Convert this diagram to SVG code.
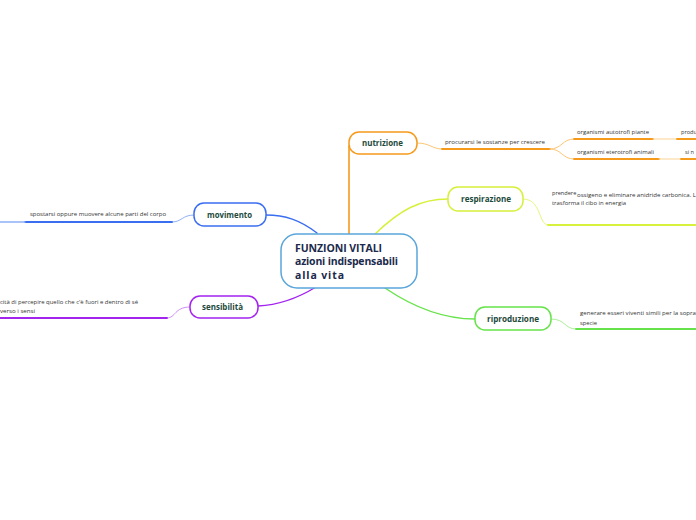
<svg xmlns="http://www.w3.org/2000/svg" width="696" height="520" viewBox="0 0 696 520">
<style>
.node{fill:#fff;stroke-width:1.5}
.t{font-family:"Open Sans","DejaVu Sans",sans-serif;font-weight:bold;font-size:9px;fill:#1d4a3c}
.c{font-family:"Open Sans","DejaVu Sans",sans-serif;font-weight:bold;font-size:10.5px;fill:#1b2a4c}
.s{font-family:"Open Sans","DejaVu Sans",sans-serif;font-size:5.6px;fill:#333}
.ln{fill:none;stroke-linecap:round}
</style>
<rect width="696" height="520" fill="#fff"/>
<g id="connectors">
  <path class="ln" d="M349 234 L349 146" stroke="#f59a1b" stroke-width="1.6"/>
  <path class="ln" d="M375 234 C400 210 420 199 448 199" stroke="#d7f03b" stroke-width="1.4"/>
  <path class="ln" d="M385 288 C410 305 440 319 475 319" stroke="#66e34a" stroke-width="1.4"/>
  <path class="ln" d="M317 233 C300 220 285 215 266 215" stroke="#3a6ef0" stroke-width="1.4"/>
  <path class="ln" d="M316 287 C298 298 280 305 258 306" stroke="#a323ef" stroke-width="1.4"/>
  <path class="ln" d="M417 143 C430 143 432 149 442 149" stroke="#fbc676" stroke-width="1"/>
  <path class="ln" d="M442 149 L550 149" stroke="#f59a1b" stroke-width="1.8"/>
  <path class="ln" d="M550 149 C562 149 562 139 574 139" stroke="#fbc676" stroke-width="1"/>
  <path class="ln" d="M550 149 C562 149 562 159 574 159" stroke="#fbc676" stroke-width="1"/>
  <path class="ln" d="M574 139 L653 139" stroke="#f59a1b" stroke-width="1.8"/>
  <path class="ln" d="M653 139 L677 139" stroke="#fbd38f" stroke-width="1"/>
  <path class="ln" d="M677 139 L696 139" stroke="#f59a1b" stroke-width="1.8"/>
  <path class="ln" d="M574 159 L659 159" stroke="#f59a1b" stroke-width="1.8"/>
  <path class="ln" d="M659 159 L681 159" stroke="#fbd38f" stroke-width="1"/>
  <path class="ln" d="M681 159 L696 159" stroke="#f59a1b" stroke-width="1.8"/>
  <path class="ln" d="M523 199 C542 199 538 225 548 225" stroke="#e6f77a" stroke-width="1"/>
  <path class="ln" d="M548 225 L696 225" stroke="#d7f03b" stroke-width="1.8"/>
  <path class="ln" d="M551 319 C566 319 564 329 576 329" stroke="#a6ef93" stroke-width="1"/>
  <path class="ln" d="M576 329 L696 329" stroke="#66e34a" stroke-width="1.8"/>
  <path class="ln" d="M194 215 C182 215 182 222 172 222" stroke="#8fb0f6" stroke-width="1"/>
  <path class="ln" d="M172 222 L25 222" stroke="#3a6ef0" stroke-width="1.8"/>
  <path class="ln" d="M25 222 L0 222" stroke="#8fb0f6" stroke-width="1.4"/>
  <path class="ln" d="M190 307 C174 307 176 318 167 318" stroke="#cf8df6" stroke-width="1"/>
  <path class="ln" d="M167 318 L0 318" stroke="#a323ef" stroke-width="1.8"/>
</g>
<g id="center">
  <rect class="node" x="281" y="234" width="136" height="54" rx="16" stroke="#5aa5da"/>
  <text class="c" x="295" y="252" textLength="87" lengthAdjust="spacing">FUNZIONI VITALI</text>
  <text class="c" x="295" y="265" textLength="103" lengthAdjust="spacing">azioni indispensabili</text>
  <text class="c" x="295" y="279" textLength="49" lengthAdjust="spacing">alla vita</text>
</g>
<g id="nutrizione">
  <rect class="node" x="349" y="132" width="68" height="22" rx="10" stroke="#f59a1b"/>
  <text class="t" x="362" y="146" textLength="41" lengthAdjust="spacingAndGlyphs">nutrizione</text>
</g>
<g id="nutrizione-text">
  <text class="s" x="445" y="144" textLength="100" lengthAdjust="spacingAndGlyphs">procurarsi  le sostanze per crescere</text>
  <text class="s" x="577" y="134" textLength="72" lengthAdjust="spacingAndGlyphs">organismi autotrofi piante</text>
  <text class="s" x="577" y="154" textLength="77" lengthAdjust="spacingAndGlyphs">organismi eterotrofi animali</text>
  <text class="s" x="681" y="134">produ</text>
  <text class="s" x="685" y="154">si n</text>
</g>
<g id="respirazione">
  <rect class="node" x="448" y="187" width="75" height="24" rx="10" stroke="#d7f03b"/>
  <text class="t" x="461" y="202" textLength="50" lengthAdjust="spacingAndGlyphs">respirazione</text>
</g>
<g id="respirazione-text">
  <text class="s" x="552" y="195">prendere</text>
  <text class="s" x="577" y="197" textLength="119" lengthAdjust="spacingAndGlyphs">ossigeno e eliminare anidride carbonica. L</text>
  <text class="s" x="552" y="205" textLength="74" lengthAdjust="spacingAndGlyphs">trasforma il cibo in energia</text>
</g>
<g id="riproduzione">
  <rect class="node" x="475" y="307" width="76" height="23" rx="10" stroke="#66e34a"/>
  <text class="t" x="487" y="322" textLength="52" lengthAdjust="spacingAndGlyphs">riproduzione</text>
</g>
<g id="riproduzione-text">
  <text class="s" x="580" y="315" textLength="116" lengthAdjust="spacingAndGlyphs">generare esseri  viventi  simili per la sopra</text>
  <text class="s" x="580" y="325" textLength="17" lengthAdjust="spacingAndGlyphs">specie</text>
</g>
<g id="movimento">
  <rect class="node" x="194" y="203" width="72" height="23" rx="10" stroke="#3a6ef0"/>
  <text class="t" x="207" y="218" textLength="45" lengthAdjust="spacingAndGlyphs">movimento</text>
</g>
<g id="movimento-text">
  <text class="s" x="30" y="216" textLength="136" lengthAdjust="spacingAndGlyphs">spostarsi oppure muovere alcune parti del corpo</text>
</g>
<g id="sensibilita">
  <rect class="node" x="190" y="296" width="68" height="22" rx="10" stroke="#a323ef"/>
  <text class="t" x="202" y="310" textLength="41" lengthAdjust="spacingAndGlyphs">sensibilità</text>
</g>
<g id="sensibilita-text">
  <text class="s" x="0" y="304" textLength="138" lengthAdjust="spacingAndGlyphs">cità di percepire quello che c'è fuori e dentro di sé</text>
  <text class="s" x="0" y="313" textLength="35" lengthAdjust="spacingAndGlyphs">verso i sensi</text>
</g>
</svg>
